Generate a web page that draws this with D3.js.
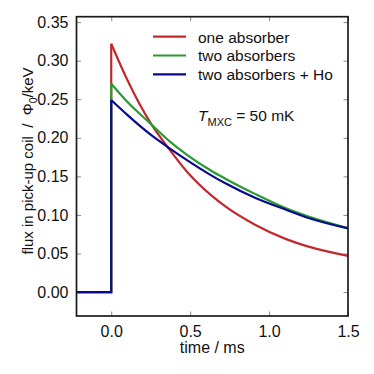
<!DOCTYPE html>
<html>
<head>
<meta charset="utf-8">
<script src="https://cdn.jsdelivr.net/npm/d3@7"></script>
<style>
  body { margin: 0; background: #fff; }
  text { font-family: "Liberation Sans", Arial, sans-serif; }
</style>
</head>
<body>
<svg id="chart" width="374" height="374"></svg>
<script>
// time axis of the decay part (ms)
const time = [0, 0.1, 0.256, 0.372, 0.48, 0.636, 0.723, 0.914, 1.104, 1.25, 1.5];

// flux per energy, Phi0/keV
const oneAbsorber = [0.322, 0.276, 0.217, 0.184, 0.156, 0.125, 0.111, 0.087, 0.069, 0.059, 0.047];
const twoAbsorbers = [0.270, 0.247, 0.217, 0.195, 0.178, 0.157, 0.147, 0.127, 0.109, 0.098, 0.083];
const twoAbsorbersHo = [0.249, 0.230, 0.203, 0.186, 0.171, 0.151, 0.141, 0.122, 0.107, 0.096, 0.0825];

// baseline before the pulse
const preTime = [-0.22, 0];

const seriesNames = ["one absorber", "two absorbers", "two absorbers + Ho"];
const seriesColors = ["#c2292e", "#2a9a32", "#0a0a8c"];
const seriesValues = [oneAbsorber, twoAbsorbers, twoAbsorbersHo];

const xTicks = [0, 0.5, 1.0, 1.5];
const yTicks = [0, 0.05, 0.10, 0.15, 0.20, 0.25, 0.30, 0.35];

const svg = d3.select("#chart");

// plot area
const margin = { top: 16.7, right: 26, bottom: 58, left: 76.5 };
const width = 374 - margin.left - margin.right;
const height = 374 - margin.top - margin.bottom;

const x = d3.scaleLinear().domain([-0.22, 1.5]).range([0, width]);
const y = d3.scaleLinear().domain([-0.031, 0.357]).range([height, 0]);

const g = svg.append("g").attr("transform", `translate(${margin.left},${margin.top})`);

// clip so nothing spills over the frame
g.append("clipPath").attr("id", "clip")
  .append("rect").attr("width", width).attr("height", height);

// axes with inward ticks
const styleAxis = sel => {
  sel.select(".domain").remove();
  sel.selectAll(".tick line").attr("stroke", "#8a8a8a").attr("stroke-width", 1);
  sel.selectAll(".tick text").attr("fill", "#111").style("font-size", "16px");
};

g.append("g").attr("transform", `translate(0,${height})`)
  .call(d3.axisBottom(x).tickValues(xTicks).tickFormat(d3.format(".1f")).tickSize(-4.5).tickPadding(10))
  .call(styleAxis);

g.append("g")
  .call(d3.axisTop(x).tickValues(xTicks).tickFormat("").tickSize(-4.5))
  .call(styleAxis);

g.append("g")
  .call(d3.axisLeft(y).tickValues(yTicks).tickFormat(d3.format(".2f")).tickSize(-4.5).tickPadding(8))
  .call(styleAxis);

g.append("g").attr("transform", `translate(${width},0)`)
  .call(d3.axisRight(y).tickValues(yTicks).tickFormat("").tickSize(-4.5))
  .call(styleAxis);

// curves: flat baseline + jump drawn straight, decay smoothed
const lineStep = d3.line().x(d => x(d[0])).y(d => y(d[1]));
const lineDecay = d3.line().x(d => x(d[0])).y(d => y(d[1])).curve(d3.curveMonotoneX);

const plot = g.append("g").attr("clip-path", "url(#clip)");

seriesValues.forEach((vals, i) => {
  const step = [[preTime[0], 0], [preTime[1], 0], [time[0], vals[0]]];
  const decay = time.map((t, j) => [t, vals[j]]);
  plot.append("path").datum(step).attr("d", lineStep)
    .attr("fill", "none").attr("stroke", seriesColors[i]).attr("stroke-width", 2.2);
  plot.append("path").datum(decay).attr("d", lineDecay)
    .attr("fill", "none").attr("stroke", seriesColors[i]).attr("stroke-width", 2.2);
});

// frame
g.append("rect").attr("width", width).attr("height", height)
  .attr("fill", "none").attr("stroke", "#1a1a1a").attr("stroke-width", 1.7);

// legend
const legend = svg.append("g").attr("transform", "translate(153,36.7)");
seriesNames.forEach((name, i) => {
  legend.append("line").attr("x1", 0).attr("x2", 33).attr("y1", i * 18.8).attr("y2", i * 18.8)
    .attr("stroke", seriesColors[i]).attr("stroke-width", 2.2);
  legend.append("text").attr("x", 45).attr("y", i * 18.8 + 6)
    .style("font-size", "15.5px").attr("fill", "#111").text(name);
});

// temperature annotation
const tText = svg.append("text").attr("x", 198).attr("y", 121)
  .style("font-size", "15.5px").attr("fill", "#111");
tText.append("tspan").style("font-style", "italic").text("T");
tText.append("tspan").attr("dy", 5).style("font-size", "11px").text("MXC");
tText.append("tspan").attr("dy", -5).text(" = 50 mK");

// axis titles
svg.append("text").attr("x", margin.left + width / 2).attr("y", 353)
  .attr("text-anchor", "middle").style("font-size", "16px").attr("fill", "#111")
  .text("time / ms");

const yTitle = svg.append("text")
  .attr("transform", "translate(33,161) rotate(-90)")
  .attr("text-anchor", "middle").style("font-size", "15px").style("white-space", "pre")
  .attr("fill", "#111");
yTitle.append("tspan").text("flux in pick-up coil  /  \u03A6");
yTitle.append("tspan").attr("dy", 4).style("font-size", "10.5px").text("0");
yTitle.append("tspan").attr("dy", -4).text("/keV");
</script>
</body>
</html>
